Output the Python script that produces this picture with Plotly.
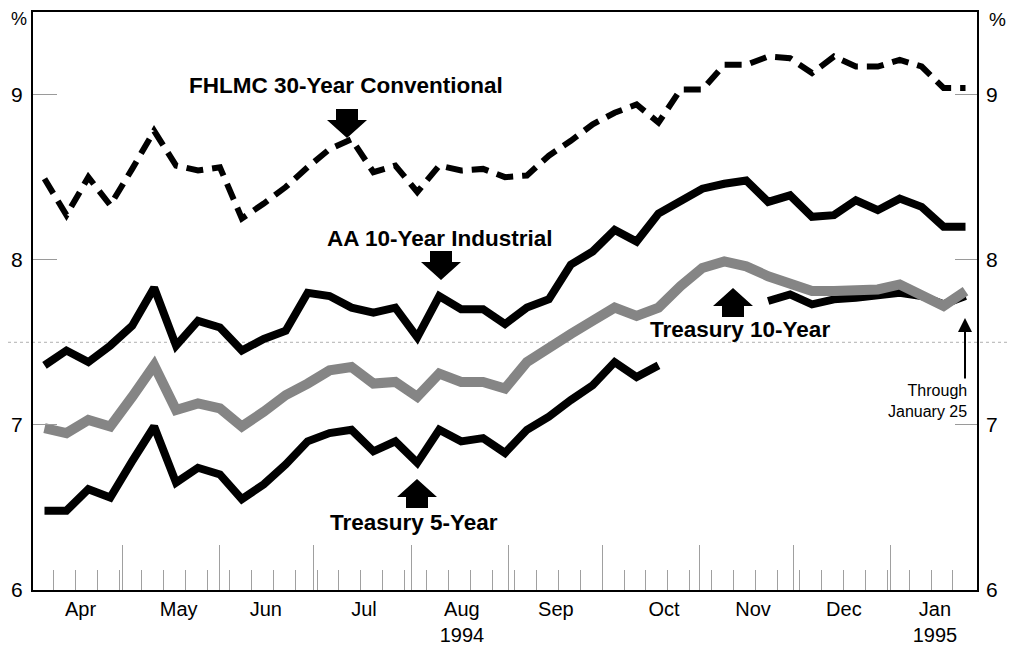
import pandas as pd
import plotly.graph_objects as go

# ---------------- data (weekly, Wednesdays) ----------------
weeks = pd.date_range("1994-04-06", "1995-01-25", freq="7D")

fhlmc_30yr = [8.49, 8.27, 8.50, 8.33, 8.55, 8.78, 8.57, 8.54, 8.56, 8.25,
              8.34, 8.44, 8.56, 8.67, 8.73, 8.53, 8.57, 8.41, 8.57, 8.54,
              8.55, 8.50, 8.51, 8.63, 8.72, 8.82, 8.89, 8.94, 8.83, 9.03,
              9.03, 9.18, 9.18, 9.23, 9.22, 9.13, 9.23, 9.17, 9.17, 9.21,
              9.17, 9.04, 9.04]

aa_10yr = [7.36, 7.45, 7.38, 7.48, 7.60, 7.83, 7.48, 7.63, 7.59, 7.45,
           7.52, 7.57, 7.80, 7.78, 7.71, 7.68, 7.71, 7.53, 7.78, 7.70,
           7.70, 7.61, 7.71, 7.76, 7.97, 8.05, 8.18, 8.11, 8.28, 8.36,
           8.43, 8.46, 8.48, 8.35, 8.39, 8.26, 8.27, 8.36, 8.30, 8.37,
           8.32, 8.20, 8.20]

treasury_10yr = [6.98, 6.95, 7.03, 6.99, 7.17, 7.36, 7.09, 7.13, 7.10, 6.99,
                 7.08, 7.18, 7.25, 7.33, 7.35, 7.25, 7.26, 7.17, 7.31, 7.26,
                 7.26, 7.22, 7.38, 7.47, 7.55, 7.63, 7.71, 7.66, 7.71, 7.84,
                 7.95, 7.99, 7.96, 7.90, 7.86, 7.81, 7.81, 7.81, 7.82, 7.85,
                 7.79, 7.72, 7.81]

treasury_5yr = [6.48, 6.48, 6.61, 6.56, 6.78, 6.99, 6.65, 6.74, 6.70, 6.55,
                6.64, 6.76, 6.90, 6.95, 6.97, 6.84, 6.90, 6.77, 6.97, 6.90,
                6.92, 6.83, 6.97, 7.05, 7.15, 7.24, 7.38, 7.29, 7.36, None,
                None, None, None, 7.75, 7.79, 7.73, 7.76, 7.77, 7.78, 7.80,
                7.78, 7.73, 7.78]

# ---------------- axis labels ----------------
month_labels = ["Apr", "May", "Jun", "Jul", "Aug<br>1994", "Sep", "Oct", "Nov", "Dec", "Jan<br>1995"]
month_label_dates = ["1994-04-17 12:00", "1994-05-18 20:00", "1994-06-15 16:00", "1994-07-17",
                     "1994-08-17 06:00", "1994-09-16 06:00", "1994-10-20 18:00", "1994-11-18 04:00",
                     "1994-12-17 04:00", "1995-01-15 06:00"]
month_starts = pd.date_range("1994-05-01", "1995-01-01", freq="MS")
week_ticks = pd.date_range("1994-04-09", "1995-01-21", freq="7D")
y_ticks = [6, 7, 8, 9]

X_RANGE = ["1994-04-02 08:00", "1995-01-28 16:00"]
Y_RANGE = [6, 9.5]

# The page body has an 8px default margin, so the figure is made 8px smaller
# and all target page-pixel positions are mapped accordingly.
PAGE_W, PAGE_H, BODY = 1016, 649, 8
FIG_W, FIG_H = PAGE_W - BODY, PAGE_H - BODY

# plot area in page pixels
L, R, T, B = 33, 977, 12, 590
W, H = R - L, B - T


def px(xp):
    return (xp - L) / W


def py(yp):
    return (B - yp) / H


FONT = "Liberation Sans, Arial, Helvetica, sans-serif"

fig = go.Figure()
fig.add_trace(go.Scatter(x=weeks, y=treasury_5yr, mode="lines", name="Treasury 5-Year",
                         line=dict(color="black", width=8), connectgaps=False, hoverinfo="skip"))
fig.add_trace(go.Scatter(x=weeks, y=treasury_10yr, mode="lines", name="Treasury 10-Year",
                         line=dict(color="#858585", width=10), hoverinfo="skip"))
fig.add_trace(go.Scatter(x=weeks, y=aa_10yr, mode="lines", name="AA 10-Year Industrial",
                         line=dict(color="black", width=8), hoverinfo="skip"))
fig.add_trace(go.Scatter(x=weeks, y=fhlmc_30yr, mode="lines", name="FHLMC 30-Year Conventional",
                         line=dict(color="black", width=6, dash="17px,9px"), hoverinfo="skip"))
# carrier trace for the secondary axes
fig.add_trace(go.Scatter(x=[X_RANGE[0]], y=[None], xaxis="x2", yaxis="y2", mode="lines",
                         showlegend=False, hoverinfo="skip"))

fig.update_layout(
    width=FIG_W, height=FIG_H,
    margin=dict(l=L - BODY, r=PAGE_W - R, t=T - BODY, b=PAGE_H - B, pad=0, autoexpand=False),
    paper_bgcolor="white", plot_bgcolor="white",
    showlegend=False,
    font=dict(family=FONT, color="black", size=20),
    xaxis=dict(type="date", range=X_RANGE, showgrid=False, zeroline=False, automargin=False,
               showline=True, linecolor="black", linewidth=2, mirror=True,
               tickmode="array", tickvals=month_label_dates, ticktext=month_labels,
               ticks="", tickfont=dict(size=20, family=FONT),
               minor=dict(tickmode="array", tickvals=week_ticks, ticks="inside",
                          ticklen=20, tickwidth=1, tickcolor="#a0a0a0", showgrid=False)),
    xaxis2=dict(type="date", range=X_RANGE, overlaying="x", anchor="y", side="bottom",
                showgrid=False, zeroline=False, showline=False, automargin=False,
                tickmode="array", tickvals=month_starts, ticks="inside", ticklen=45,
                tickwidth=1, tickcolor="#a0a0a0", showticklabels=False),
    yaxis=dict(range=Y_RANGE, showgrid=False, zeroline=False, automargin=False,
               showline=True, linecolor="black", linewidth=2, mirror=True,
               tickmode="array", tickvals=y_ticks, ticks="inside", ticklen=24,
               tickwidth=1, tickcolor="#9a9a9a", ticklabelstandoff=4,
               tickfont=dict(size=21, family=FONT)),
    yaxis2=dict(range=Y_RANGE, overlaying="y", side="right", anchor="x", automargin=False,
                showgrid=False, zeroline=False, showline=False,
                tickmode="array", tickvals=y_ticks, ticks="inside", ticklen=22,
                tickwidth=1, tickcolor="#9a9a9a", ticklabelstandoff=8,
                tickfont=dict(size=21, family=FONT)),
)

# faint dotted rule at 7.5 across the whole page
fig.add_shape(type="line", xref="paper", yref="y", x0=px(BODY), x1=px(PAGE_W), y0=7.5, y1=7.5,
              line=dict(color="#b0b0b0", width=1, dash="dot"), layer="below")

# block arrows
down_arrow = "M0,0 L-20,18 L-11,18 L-11,29 L11,29 L11,18 L20,18 Z"
up_arrow = "M0,0 L-20,-18 L-11,-18 L-11,-29 L11,-29 L11,-18 L20,-18 Z"
for (ax_, ay_, path) in [(347, 138, down_arrow), (441, 280, down_arrow),
                         (417, 479, up_arrow), (733, 288, up_arrow)]:
    fig.add_shape(type="path", xref="paper", yref="paper",
                  xsizemode="pixel", ysizemode="pixel",
                  xanchor=px(ax_), yanchor=py(ay_), path=path,
                  fillcolor="black", line=dict(color="black", width=0), layer="above")

labels = [
    ("FHLMC 30-Year Conventional", 346, 85),
    ("AA 10-Year Industrial", 440, 238),
    ("Treasury 5-Year", 414, 522),
    ("Treasury 10-Year", 740, 329),
]
for text, xp_, yp_ in labels:
    fig.add_annotation(text=f"<b>{text}</b>", xref="paper", yref="paper",
                       x=px(xp_), y=py(yp_), xanchor="center", yanchor="middle",
                       showarrow=False, font=dict(size=22.5, family=FONT, color="black"))

# "Through January 25" note with thin arrow
fig.add_annotation(text="Through<br>January 25", xref="paper", yref="paper",
                   x=px(969), y=py(401), xanchor="right", yanchor="middle", align="right",
                   showarrow=False, font=dict(size=16, family=FONT, color="black"))
fig.add_annotation(text="", xref="paper", yref="paper", x=px(965), y=py(318),
                   ax=0, ay=62, showarrow=True, arrowhead=2, arrowsize=1.4,
                   arrowwidth=2, arrowcolor="black")

# % unit labels
fig.add_annotation(text="%", xref="paper", yref="paper", x=px(19), y=py(19),
                   xanchor="center", yanchor="middle", showarrow=False,
                   font=dict(size=18, family=FONT, color="black"))
fig.add_annotation(text="%", xref="paper", yref="paper", x=px(997), y=py(20),
                   xanchor="center", yanchor="middle", showarrow=False,
                   font=dict(size=19, family=FONT, color="black"))

fig.write_html("out.html")
